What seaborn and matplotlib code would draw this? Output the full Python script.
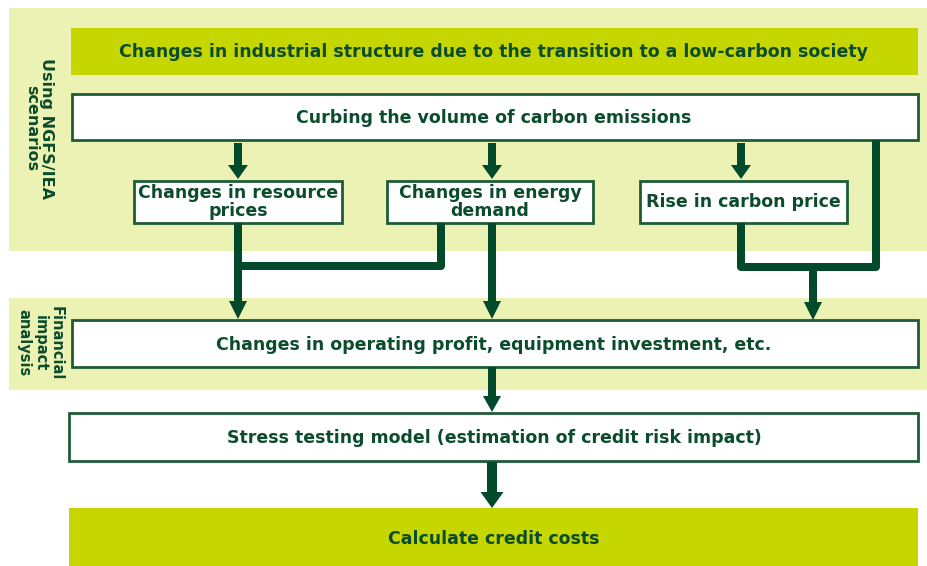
import matplotlib
matplotlib.use("Agg")
import matplotlib.pyplot as plt
import seaborn as sns
from matplotlib.patches import Rectangle, FancyArrow

sns.set_theme(style="white")
plt.rcParams['font.family'] = ['DejaVu Sans']

# ---- content ----
header_text = "Changes in industrial structure due to the transition to a low-carbon society"
curb_text = "Curbing the volume of carbon emissions"
mid_labels = ["Changes in resource\nprices", "Changes in energy\ndemand", "Rise in carbon price"]
ops_text = "Changes in operating profit, equipment investment, etc."
stress_text = "Stress testing model (estimation of credit risk impact)"
final_text = "Calculate credit costs"
side_labels = ["Using NGFS/IEA\nscenarios", "Financial\nimpact\nanalysis"]

BAND = "#ECF2B4"
LIME = "#C5D600"
DARK = "#03492B"
TXT = "#0B4C2D"
EDGE = "#1E5C38"

fig = plt.figure(figsize=(9.28, 5.66), dpi=100)
ax = fig.add_axes([0, 0, 1, 1])
ax.set_xlim(0, 928)
ax.set_ylim(566, 0)
ax.axis("off")

def rect(x0, y0, x1, y1, fc, ec="none", lw=0, z=1):
    ax.add_patch(Rectangle((x0, y0), x1 - x0, y1 - y0, facecolor=fc,
                           edgecolor=ec, linewidth=lw, zorder=z))

def label(x, y, s, size=12.5, **kw):
    ax.text(x, y, s, ha="center", va="center", fontsize=size,
            fontweight="bold", color=TXT, linespacing=1.0, zorder=10, **kw)

def arrow(x, y0, y1, w=8, hw=20, hl=13, z=6):
    ax.add_patch(FancyArrow(x, y0, 0, y1 - y0, width=w, head_width=hw,
                            head_length=hl, length_includes_head=True,
                            color=DARK, linewidth=0, zorder=z))

# background bands
rect(9, 8, 928, 251, BAND)
rect(9, 298, 928, 390, BAND)

# header
rect(71, 28, 918, 75, LIME, z=2)
label(494, 52, header_text)

# curbing box
rect(72, 94, 918, 140, "white", EDGE, 2, z=3)
label(494, 118, curb_text)

# mid boxes
mid_boxes = [(134, 342), (387, 593), (640, 847)]
for (x0, x1), s in zip(mid_boxes, mid_labels):
    rect(x0, 181, x1, 223, "white", EDGE, 2, z=3)
    label((x0 + x1) / 2, 202, s)

# arrows from curbing box
for xc in [238, 492, 741]:
    arrow(xc, 143, 179, w=8, hw=20, hl=14)

lw_pt = 8 * 0.72
# connectors
ax.plot([441, 441, 238], [223, 266, 266], color=DARK, lw=lw_pt,
        solid_joinstyle="round", solid_capstyle="butt", zorder=5)
arrow(238, 223, 319, w=8, hw=18, hl=18)
arrow(492, 223, 319, w=8, hw=18, hl=18)
ax.plot([741, 741, 876, 876], [223, 267, 267, 140], color=DARK, lw=lw_pt,
        solid_joinstyle="round", solid_capstyle="butt", zorder=5)
arrow(813, 263, 320, w=8, hw=18, hl=18)

# ops box
rect(72, 320, 918, 367, "white", EDGE, 2, z=3)
label(494, 345, ops_text)
arrow(492, 367, 412, w=8, hw=18, hl=16)

# stress box
rect(69, 413, 918, 461, "white", EDGE, 2, z=3)
label(494, 438, stress_text)
arrow(492, 462, 508, w=10, hw=23, hl=16)

# final box
rect(69, 508, 918, 566, LIME, z=2)
label(494, 539, final_text)

# side labels
ax.text(39, 128, side_labels[0], rotation=270, ha="center", va="center",
        fontsize=11.5, fontweight="bold", color=TXT, linespacing=1.0,
        rotation_mode="anchor")
ax.text(40, 343, side_labels[1], rotation=270, ha="center", va="center",
        fontsize=10.5, fontweight="bold", color=TXT, linespacing=1.1,
        rotation_mode="anchor")

fig.savefig("out.png", dpi=100, facecolor="white")
